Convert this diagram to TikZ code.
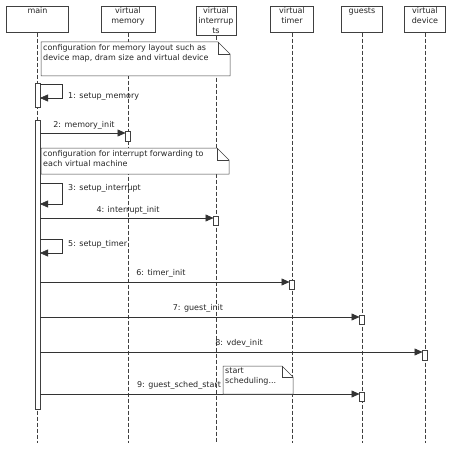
\documentclass[tikz,border=0pt]{standalone}
\usepackage{fontspec}
\setmainfont{DejaVu Sans}
\usetikzlibrary{arrows.meta}
\begin{document}
\begin{tikzpicture}[x=1pt,y=-1pt,
  every node/.style={font=\fontsize{8}{10}\selectfont, text=black!85, inner sep=0pt},
  hdr/.style={draw=black!75, line width=0.6pt, minimum height=26pt, anchor=north},
  htxt/.style={anchor=north, align=center, yshift=-1.5pt},
  life/.style={draw=black!75, dashed, dash pattern=on 4pt off 2pt, line width=0.5pt},
  act/.style={draw=black!75, fill=white, line width=0.5pt},
  msg/.style={draw=black!80, line width=0.5pt, -{Triangle[length=8pt,width=7pt]}},
  lbl/.style={anchor=base},
  notebox/.style={draw=black!75, fill=white, line width=0.5pt}
]
\useasboundingbox (0,0) rectangle (458,452);
\fill[white] (0,0) rectangle (458,452);

% headers
\node[hdr, minimum width=62pt] (hmain) at (37.5,6) {};
\node[hdr, minimum width=54pt] (hvm) at (128,6) {};
\node[hdr, minimum width=40pt, minimum height=29pt] (hvi) at (216,6) {};
\node[hdr, minimum width=43pt] (hvt) at (292,6) {};
\node[hdr, minimum width=41pt] (hg) at (362,6) {};
\node[hdr, minimum width=41pt] (hvd) at (425,6) {};
\node[htxt] (tmain) at (hmain.north) {main};
\node[htxt] (tvm) at (hvm.north) {virtual\\memory};
\node[htxt] (tvi) at (hvi.north) {virtual\\interrrup\\ts};
\node[htxt] (tvt) at (hvt.north) {virtual\\timer};
\node[htxt] (tg) at (hg.north) {guests};
\node[htxt] (tvd) at (hvd.north) {virtual\\device};

% lifeline ends
\coordinate (emain) at (37.5,443);
\coordinate (evm) at (128,443);
\coordinate (evi) at (216,443);
\coordinate (evt) at (292,443);
\coordinate (eg) at (362,443);
\coordinate (evd) at (425,443);

\draw[life] (hmain.south) -- (emain);
\draw[life] (hvm.south) -- (evm);
\draw[life] (hvi.south) -- (evi);
\draw[life] (hvt.south) -- (evt);
\draw[life] (hg.south) -- (eg);
\draw[life] (hvd.south) -- (evd);

% note 1
\draw[notebox] (41,42) -- (218,42) -- (230,54) -- (230,76) -- (41,76) -- cycle;
\draw[black!75, line width=0.5pt] (218,42) -- (218,54) -- (230,54);
\node[anchor=north west, align=left] (n1) at (43,44) {configuration for memory layout such as\\device map, dram size and virtual device};

% activations main
\draw[act] (35,83) rectangle (40,107);
\draw[act] (35,120) rectangle (40,409);
\coordinate (a1t) at (40,84);
\coordinate (a1b) at (40,98);

% msg 1 self
\draw[msg] (a1t) -- (62,84) -- (62,98) -- (a1b);
\node[anchor=west] (l1) at (68,97) {1: setup\_memory};

% msg 2
\draw[act] (125.5,131) rectangle (130.5,141);
\coordinate (m2s) at (40,133);
\coordinate (m2e) at (125.5,133);
\draw[msg] (m2s) -- (m2e);
\node[lbl] (l2) at (84,127) {2: memory\_init};

% note 2
\draw[notebox] (41,148) -- (217,148) -- (229,160) -- (229,174) -- (41,174) -- cycle;
\draw[black!75, line width=0.5pt] (217,148) -- (217,160) -- (229,160);
\node[anchor=north west, align=left] (n2) at (43,150) {configuration for interrupt forwarding to\\each virtual machine};

% msg 3 self
\coordinate (m3s) at (40,183);
\coordinate (m3e) at (40,204);
\draw[msg] (m3s) -- (62,183) -- (62,204) -- (m3e);
\node[anchor=west] (l3) at (68,188) {3: setup\_interrupt};

% msg 4
\draw[act] (213.5,216) rectangle (218.5,225);
\coordinate (m4s) at (40,218);
\coordinate (m4e) at (213.5,218);
\draw[msg] (m4s) -- (m4e);
\node[lbl] (l4) at (128,212) {4: interrupt\_init};

% msg 5 self
\coordinate (m5s) at (40,239);
\coordinate (m5e) at (40,253);
\draw[msg] (m5s) -- (62,239) -- (62,253) -- (m5e);
\node[anchor=west] (l5) at (68,244) {5: setup\_timer};

% msg 6
\draw[act] (289.5,280) rectangle (294.5,289);
\coordinate (m6s) at (40,282);
\coordinate (m6e) at (289.5,282);
\draw[msg] (m6s) -- (m6e);
\node[lbl] (l6) at (161,275) {6: timer\_init};

% msg 7
\draw[act] (359.5,315) rectangle (364.5,324);
\coordinate (m7s) at (40,317);
\coordinate (m7e) at (359.5,317);
\draw[msg] (m7s) -- (m7e);
\node[lbl] (l7) at (198,310) {7: guest\_init};

% msg 8
\draw[act] (422.5,350) rectangle (427.5,360);
\coordinate (m8s) at (40,352);
\coordinate (m8e) at (422.5,352);
\draw[msg] (m8s) -- (m8e);
\node[lbl] (l8) at (239,345) {8: vdev\_init};

% msg 9
\draw[act] (359.5,392) rectangle (364.5,401);
\coordinate (m9s) at (40,394);
\coordinate (m9e) at (359.5,394);
\draw[msg] (m9s) -- (m9e);
\node[lbl] (l9) at (179,387) {9: guest\_sched\_start};

% note 3
\draw[notebox] (223,366) -- (282,366) -- (293,377) -- (293,394) -- (223,394) -- cycle;
\draw[black!75, line width=0.5pt] (282,366) -- (282,377) -- (293,377);
\node[anchor=north west, align=left] (n3) at (225,368) {start\\scheduling...};
\end{tikzpicture}
\end{document}
